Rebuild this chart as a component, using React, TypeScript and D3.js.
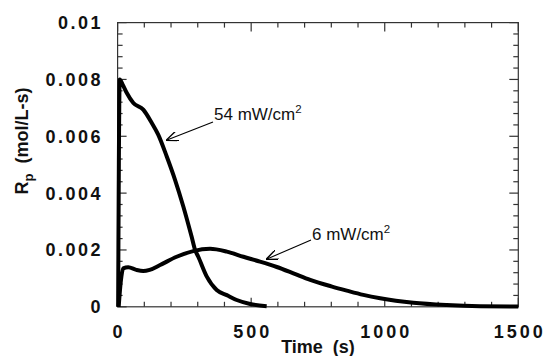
import * as d3 from "d3";
import React from 'react'

// Rp vs time, two light intensities
const time54 = [2, 8, 20, 34, 59, 96, 128, 152, 184, 215, 246, 277, 290, 302, 334, 371, 409, 446, 496, 558]
const rp54 = [0, 0.0080, 0.0078, 0.00753, 0.00717, 0.00694, 0.00647, 0.00606, 0.00529, 0.00447, 0.00353, 0.00247, 0.002, 0.00176, 0.00106, 0.00059, 0.00041, 0.00024, 0.0001, 0.00002]

const time6 = [4, 12, 21, 40, 70, 96, 120, 159, 221, 283, 346, 409, 471, 533, 596, 658, 721, 800, 858, 920, 983, 1107, 1232, 1357, 1500]
const rp6 = [0, 0.0009, 0.00135, 0.00139, 0.0013, 0.00126, 0.0013, 0.00147, 0.00176, 0.00196, 0.00204, 0.00194, 0.00176, 0.00159, 0.0014, 0.00118, 0.00095, 0.00072, 0.00057, 0.00042, 0.0003, 0.00014, 0.00006, 0.00002, 0.00001]

const xTicks = [0, 500, 1000, 1500]
const yTicks = [0, 0.002, 0.004, 0.006, 0.008, 0.01]
const yTickLabels = ["0", "0.002", "0.004", "0.006", "0.008", "0.01"]

const W = 548, H = 356
const m = { l: 117.6, r: 518.3, t: 22.6, b: 306.8 }
const font = "'Liberation Sans', Arial, Helvetica, sans-serif"

const App: React.FC = () => {
  const x = d3.scaleLinear([0, 1500], [m.l, m.r])
  const y = d3.scaleLinear([0, 0.01], [m.b, m.t])

  const line = d3.line<[number, number]>()
    .x(d => x(d[0]))
    .y(d => y(d[1]))
    .curve(d3.curveMonotoneX)

  const s54 = time54.map((t, i) => [t, rp54[i]] as [number, number])
  const s6 = time6.map((t, i) => [t, rp6[i]] as [number, number])

  const xMinor = d3.range(0, 1501, 100)
  const yMinor = d3.range(0, 0.01001, 0.0004)
  const isMajX = (v: number) => v % 500 === 0
  const isMajY = (v: number) => Math.abs(v / 0.002 - Math.round(v / 0.002)) < 1e-6

  const axisColor = "#333"

  return (
    <svg width={W} height={H} style={{ position: "absolute", left: 0, top: 0, background: "white" }}>
      <rect x={m.l} y={m.t} width={m.r - m.l} height={m.b - m.t} fill="none" stroke={axisColor} strokeWidth={1.2} />
      {xMinor.map(v => {
        const len = isMajX(v) ? 9 : 5
        return <g key={"x" + v}>
          <line x1={x(v)} x2={x(v)} y1={m.b} y2={m.b - len} stroke={axisColor} strokeWidth={1.2} />
          <line x1={x(v)} x2={x(v)} y1={m.t} y2={m.t + len} stroke={axisColor} strokeWidth={1.2} />
        </g>
      })}
      {yMinor.map(v => {
        const len = isMajY(v) ? 9 : 5
        return <g key={"y" + v}>
          <line x1={m.l} x2={m.l + len} y1={y(v)} y2={y(v)} stroke={axisColor} strokeWidth={1.2} />
          <line x1={m.r} x2={m.r - len} y1={y(v)} y2={y(v)} stroke={axisColor} strokeWidth={1.2} />
        </g>
      })}
      {xTicks.map(v =>
        <text key={"xl" + v} x={x(v) + 1.5} y={338} textAnchor="middle" fontFamily={font} fontWeight="bold"
          fontSize={18} letterSpacing={3} fill="#111">{v}</text>)}
      {yTicks.map((v, i) =>
        <text key={"yl" + v} x={103} y={y(v) + 6.5} textAnchor="end" fontFamily={font} fontWeight="bold"
          fontSize={18} letterSpacing={2.5} fill="#111">{yTickLabels[i]}</text>)}
      <text x={318} y={353} textAnchor="middle" fontFamily={font} fontWeight="bold" fontSize={18} fill="#111"
        style={{ whiteSpace: "pre" }}>{"Time  (s)"}</text>
      <text transform="translate(28, 141) rotate(-90)" textAnchor="middle" fontFamily={font} fontWeight="bold"
        fontSize={18} fill="#111" style={{ whiteSpace: "pre" }}>
        R<tspan fontSize={13} dy={5}>p</tspan><tspan dy={-5}>{"  (mol/L-s)"}</tspan>
      </text>

      <path d={line(s54) ?? ""} fill="none" stroke="#000" strokeWidth={4} strokeLinejoin="round" />
      <path d={line(s6) ?? ""} fill="none" stroke="#000" strokeWidth={4} strokeLinejoin="round" />

      <defs>
        <marker id="ah" viewBox="0 0 12 10" refX={11} refY={5} markerWidth={12} markerHeight={10}
          markerUnits="userSpaceOnUse" orient="auto">
          <path d="M0,0 L12,5 L0,10" fill="none" stroke="#000" strokeWidth={1.4} />
        </marker>
      </defs>
      <line x1={213} y1={122} x2={167} y2={140} stroke="#000" strokeWidth={1.1} markerEnd="url(#ah)" />
      <text x={214} y={120} fontFamily={font} fontSize={17} fill="#111">
        54 mW/cm<tspan fontSize={11.5} dy={-7.5}>2</tspan>
      </text>
      <line x1={311} y1={240} x2={267} y2={259} stroke="#000" strokeWidth={1.1} markerEnd="url(#ah)" />
      <text x={312} y={240} fontFamily={font} fontSize={17} fill="#111">
        6 mW/cm<tspan fontSize={11.5} dy={-7.5}>2</tspan>
      </text>
    </svg>
  )
}

export default App
